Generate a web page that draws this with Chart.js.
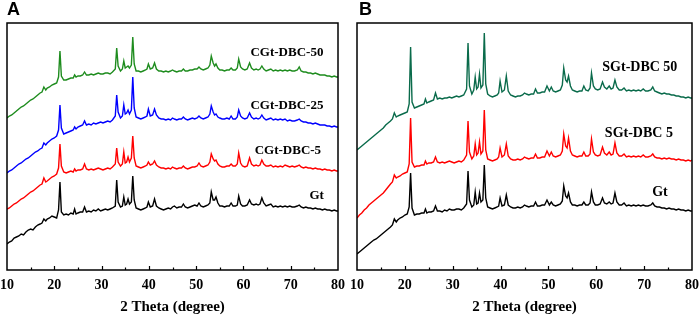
<!DOCTYPE html>
<html lang="en">
<head>
<meta charset="UTF-8">
<title>XRD patterns of Gt, CGt-DBC and SGt-DBC</title>
<script src="https://cdn.jsdelivr.net/npm/chart.js"></script>
<style>
  body { margin: 0; background: #fff; }
  #wrap { position: relative; width: 699px; height: 318px; }
  canvas { position: absolute; top: 0; }
  #chartA { left: 0; }
  #chartB { left: 350px; }
  .panel { position: absolute; top: 0; font: bold 18px "Liberation Sans", Arial, sans-serif; line-height: 18px; }
</style>
</head>
<body>
<div id="wrap">
  <canvas id="chartA" width="345" height="318"></canvas>
  <canvas id="chartB" width="349" height="318"></canvas>
  <div class="panel" style="left:7px">A</div>
  <div class="panel" style="left:359px">B</div>
</div>

<script>
// 2 theta positions (degree), shared by every pattern
const theta = [
  10, 10.5, 11, 11.5, 12, 12.5, 13, 13.5, 14, 14.5, 15, 15.5, 16, 16.5, 17,
  17.4, 17.8, 18.2, 18.5, 19, 19.5, 20, 20.5,
  20.9, 21.2, 21.5,
  22, 22.5, 23, 23.5, 24, 24.3, 24.6, 25, 25.5, 26, 26.4, 26.8, 27.3, 27.8, 28.3, 28.8, 29.3, 29.8, 30.3, 30.8, 31.3, 31.8, 32.3,
  32.9, 33.2, 33.5, 34.0, 34.4, 34.7, 35.0, 35.3, 35.6, 35.9, 36.3, 36.6, 36.9, 37.3,
  37.8, 38.3, 38.8, 39.3, 39.6, 39.9, 40.3, 40.8, 41.2, 41.6, 42.1,
  42.6, 43.1, 43.6, 44.1, 44.6, 45.0, 45.4, 45.9, 46.4, 46.9, 47.3, 47.7, 48.2, 48.7, 49.2, 49.7, 50.2, 50.6, 51.0, 51.5, 52.0, 52.5,
  52.9, 53.2, 53.6, 53.9, 54.2, 54.6, 55.0,
  55.5, 56.0, 56.5, 57.0, 57.4, 57.8, 58.3, 58.7, 59.0, 59.4, 59.8, 60.3, 60.8,
  61.3, 61.7, 62.2, 62.7, 63.1, 63.5, 63.9, 64.3, 64.8,
  65.3, 65.8, 66.3, 66.8, 67.3, 67.8, 68.3, 68.8, 69.3, 69.8, 70.3, 70.8, 71.4, 71.8, 72.2, 72.7, 73.2, 73.7, 74.2, 74.7, 75.2, 75.7, 76.2, 76.7, 77.2, 77.7, 78.2, 78.7, 79.2, 79.7, 80
];

// Panel A (stacked intensities, arbitrary units)
const gtA = [
  26, 28, 29, 32, 33, 34, 36, 35, 38, 40, 41, 40, 43, 45, 46,
  47, 51, 49, 51, 52, 54, 53, 52,
  60, 88, 58,
  55, 56, 55, 57, 56, 61, 56, 57, 58, 58, 63, 58, 59, 58, 60, 59, 61, 59, 60, 61, 60, 61, 62,
  64, 90, 68, 63, 64, 73, 65, 66, 71, 66, 68, 94, 70, 62,
  61, 60, 61, 62, 63, 68, 63, 64, 71, 64, 62,
  61, 60, 61, 62, 61, 63, 64, 62, 63, 63, 66, 63, 62, 63, 64, 65, 64, 67, 64, 63, 64, 65,
  67, 78, 70, 70, 73, 67, 64,
  64, 63, 64, 64, 67, 64, 64, 65, 74, 66, 64, 64, 65,
  70, 66, 65, 66, 65, 66, 72, 67, 64,
  65, 66, 63, 64, 63, 64, 63, 64, 63, 64, 63, 63, 64, 65, 63, 62, 63, 62, 62, 61, 62, 61, 61, 60, 61, 60, 60, 59, 60, 59, 59
];
const cgt5 = [
  61, 62, 64, 66, 67, 69, 71, 72, 74, 76, 78, 79, 81, 83, 85,
  86, 92, 88, 89, 91, 93, 94, 96,
  102, 126, 104,
  98, 97, 98, 99, 98, 101, 99, 100, 100, 101, 106, 101, 100, 101, 100, 101, 102, 101, 100, 101, 102, 101, 103,
  106, 122, 108, 104, 106, 118, 107, 108, 113, 108, 112, 134, 112, 104,
  103, 102, 103, 104, 105, 108, 105, 106, 109, 105, 103,
  102, 102, 101, 102, 101, 103, 102, 101, 102, 102, 104, 102, 101, 102, 103, 103, 104, 107, 104, 103, 104, 105,
  108, 116, 111, 109, 110, 106, 104,
  103, 103, 104, 104, 106, 104, 104, 106, 117, 107, 104, 103, 104,
  112, 106, 104, 105, 104, 105, 110, 106, 104,
  104, 105, 103, 104, 103, 104, 103, 105, 104, 103, 104, 103, 104, 105, 103, 102, 103, 102, 102, 101, 102, 101, 101, 100, 101, 100, 100, 99, 100, 99, 99
];
const cgt25 = [
  97, 99, 100, 102, 104, 106, 107, 109, 111, 112, 114, 116, 118, 119, 121,
  122, 127, 125, 127, 129, 131, 132, 134,
  140, 165, 142,
  136, 137, 138, 139, 140, 143, 141, 143, 144, 145, 149, 145, 146, 145, 147, 146, 147, 148, 147, 148, 149, 148, 150,
  154, 175, 158, 152, 154, 165, 156, 157, 160, 156, 160, 193, 162, 153,
  152, 151, 152, 153, 154, 161, 154, 155, 161, 155, 152,
  151, 151, 150, 151, 150, 152, 151, 150, 151, 151, 153, 151, 150, 151, 152, 151, 152, 154, 152, 151, 152, 153,
  156, 164, 158, 155, 156, 153, 152,
  151, 151, 152, 151, 154, 151, 151, 153, 160, 154, 152, 151, 152,
  157, 153, 151, 152, 151, 152, 155, 152, 150,
  151, 152, 150, 151, 150, 151, 150, 151, 149, 150, 149, 149, 150, 151, 149, 148, 148, 147, 147, 146, 147, 146, 145, 145, 145, 144, 144, 143, 144, 143, 143
];
const cgt50 = [
  152, 154, 155, 157, 159, 161, 163, 164, 166, 168, 170, 171, 173, 175, 177,
  178, 183, 180, 182, 183, 185, 186, 187,
  193, 219, 194,
  190, 190, 191, 192, 192, 195, 193, 194, 194, 195, 198, 195, 195, 196, 195, 196, 197, 196, 196, 197, 197, 196, 198,
  201, 222, 204, 199, 201, 209, 202, 203, 204, 202, 205, 233, 206, 199,
  199, 198, 199, 200, 201, 206, 201, 202, 207, 201, 199,
  199, 198, 199, 198, 199, 200, 199, 198, 199, 199, 201, 199, 199, 200, 200, 201, 201, 203, 201, 200, 201, 202,
  205, 214, 207, 204, 206, 202, 200,
  200, 199, 200, 200, 202, 200, 200, 202, 211, 203, 201, 200, 201,
  207, 202, 200, 201, 200, 201, 204, 201, 199,
  200, 201, 199, 200, 199, 200, 199, 200, 199, 200, 199, 199, 200, 203, 199, 198, 198, 197, 197, 196, 197, 196, 195, 195, 195, 194, 194, 193, 194, 193, 193
];

// Panel B
const gtB = [
  16, 18, 20, 22, 24, 26, 28, 30, 31, 33, 35, 37, 39, 41, 43,
  45, 51, 48, 50, 52, 53, 55, 56,
  63, 97, 62,
  55, 56, 56, 57, 57, 61, 57, 58, 58, 59, 64, 59, 59, 58, 60, 59, 61, 60, 60, 61, 61, 60, 62,
  66, 99, 70, 63, 65, 78, 66, 67, 77, 68, 70, 105, 72, 63,
  62, 61, 62, 63, 64, 72, 64, 65, 75, 65, 63,
  62, 62, 63, 62, 63, 65, 64, 63, 64, 64, 68, 64, 64, 65, 65, 70, 65, 68, 65, 64, 65, 66,
  69, 84, 74, 72, 77, 68, 65,
  65, 64, 65, 65, 68, 65, 65, 67, 78, 68, 65, 65, 66,
  72, 67, 66, 68, 66, 67, 77, 68, 65,
  65, 67, 64, 65, 64, 65, 64, 65, 64, 65, 64, 64, 65, 67, 64, 63, 63, 62, 62, 61, 62, 61, 61, 60, 61, 60, 60, 59, 60, 59, 59
];
const sgt5 = [
  52, 55, 57, 60, 62, 65, 67, 69, 71, 73, 75, 77, 80, 83, 86,
  88, 95, 92, 93, 94, 96, 97, 98,
  106, 152, 108,
  103, 104, 104, 105, 105, 109, 106, 107, 107, 108, 113, 108, 107, 108, 107, 108, 109, 108, 107, 108, 109, 108, 110,
  115, 149, 118, 111, 114, 126, 115, 117, 128, 116, 119, 160, 120, 111,
  110, 109, 110, 111, 113, 122, 113, 115, 126, 114, 111,
  110, 110, 111, 110, 111, 113, 112, 111, 112, 112, 116, 112, 112, 113, 113, 119, 114, 118, 114, 113, 114, 115,
  119, 136, 124, 122, 132, 119, 115,
  114, 113, 114, 114, 118, 114, 114, 116, 131, 118, 115, 114, 115,
  123, 117, 115, 118, 115, 116, 127, 117, 114,
  114, 116, 113, 114, 113, 114, 113, 114, 113, 115, 113, 113, 114, 116, 113, 112, 112, 111, 112, 111, 112, 111, 111, 110, 111, 110, 110, 109, 110, 109, 110
];
const sgt50 = [
  120, 122, 124, 126, 128, 130, 132, 134, 136, 138, 140, 142, 145, 147, 149,
  151, 157, 153, 154, 155, 156, 157, 158,
  166, 223, 168,
  162, 163, 164, 165, 166, 171, 167, 168, 169, 170, 177, 171, 172, 171, 172, 172, 173, 172, 173, 174, 173, 174, 175,
  181, 227, 184, 176, 180, 193, 181, 183, 196, 182, 185, 237, 186, 176,
  174, 173, 174, 175, 177, 189, 178, 180, 194, 179, 175,
  174, 173, 174, 174, 175, 177, 176, 175, 176, 176, 181, 177, 177, 178, 178, 184, 179, 183, 179, 178, 179, 180,
  185, 202, 190, 188, 194, 184, 180,
  179, 178, 179, 179, 184, 180, 179, 182, 197, 184, 181, 180, 181,
  188, 183, 181, 184, 181, 182, 190, 183, 180,
  180, 182, 179, 180, 179, 180, 179, 180, 179, 181, 179, 179, 180, 183, 179, 178, 177, 176, 177, 176, 176, 175, 175, 174, 174, 173, 173, 172, 173, 172, 172
];

const labelsA = [
  { text: 'CGt-DBC-50', x: 69.2, y: 217 },
  { text: 'CGt-DBC-25', x: 69.2, y: 164 },
  { text: 'CGt-DBC-5', x: 69.4, y: 119 },
  { text: 'Gt', x: 75.5, y: 74 }
];
const labelsB = [
  { text: 'SGt-DBC 50', x: 69.1, y: 203 },
  { text: 'SGt-DBC 5', x: 68.9, y: 137 },
  { text: 'Gt', x: 73.3, y: 78 }
];

[gtA, cgt5, cgt25, cgt50, gtB, sgt5, sgt50].forEach((s, i) => {
  if (s.length !== theta.length) throw new Error('series ' + i + ' has ' + s.length + ' points, expected ' + theta.length);
});

const serif = '"Liberation Serif", "Times New Roman", serif';

// frame, inward ticks and the sample names
const decor = {
  id: 'decor',
  afterDraw(chart, args, opts) {
    const { ctx, chartArea: a, scales: { x, y } } = chart;
    ctx.save();
    ctx.strokeStyle = '#000';
    ctx.lineWidth = 1.5;
    ctx.strokeRect(a.left, a.top, a.right - a.left, a.bottom - a.top);
    ctx.lineWidth = 1.2;
    for (let v = 15; v < 80; v += 5) {
      const px = Math.round(x.getPixelForValue(v)) + 0.5;
      const len = v % 10 === 0 ? 4 : 2.5;
      ctx.beginPath();
      ctx.moveTo(px, a.bottom);
      ctx.lineTo(px, a.bottom - len);
      ctx.stroke();
    }
    ctx.fillStyle = '#000';
    ctx.font = 'bold ' + opts.size + 'px ' + serif;
    ctx.textAlign = 'center';
    ctx.textBaseline = 'middle';
    opts.labels.forEach(l => ctx.fillText(l.text, x.getPixelForValue(l.x), y.getPixelForValue(l.y)));
    ctx.restore();
  }
};

function series(values, color) {
  return {
    data: theta.map((t, i) => ({ x: t, y: values[i] })),
    borderColor: color,
    borderWidth: 1.4,
    pointRadius: 0,
    fill: false,
    tension: 0
  };
}

function makeChart(id, datasets, labels, labelSize) {
  new Chart(document.getElementById(id), {
    type: 'line',
    data: { datasets: datasets },
    options: {
      responsive: false,
      animation: false,
      events: [],
      layout: { padding: { left: 7, right: 7, top: 23, bottom: 0 } },
      plugins: {
        legend: { display: false },
        tooltip: { enabled: false },
        decor: { labels: labels, size: labelSize }
      },
      scales: {
        x: {
          type: 'linear',
          min: 10,
          max: 80,
          grid: { display: false, drawTicks: false },
          border: { display: false },
          ticks: {
            stepSize: 10,
            padding: 7,
            maxRotation: 0,
            autoSkip: false,
            color: '#000',
            font: { family: serif, weight: 'bold', size: 14 }
          },
          title: {
            display: true,
            text: '2 Theta (degree)',
            color: '#000',
            padding: { top: 0, bottom: 2 },
            font: { family: serif, weight: 'bold', size: 15 }
          },
          afterFit(axis) {
            axis.height = 48;
            axis.paddingLeft = 0;
            axis.paddingRight = 0;
          }
        },
        y: { display: false, min: 0, max: 247 }
      }
    },
    plugins: [decor]
  });
}

makeChart('chartA', [
  series(gtA, '#000000'),
  series(cgt5, '#ff0000'),
  series(cgt25, '#0000ff'),
  series(cgt50, '#1e8c1e')
], labelsA, 13);

makeChart('chartB', [
  series(gtB, '#000000'),
  series(sgt5, '#ff0000'),
  series(sgt50, '#0a6b4b')
], labelsB, 14);
</script>
</body>
</html>
